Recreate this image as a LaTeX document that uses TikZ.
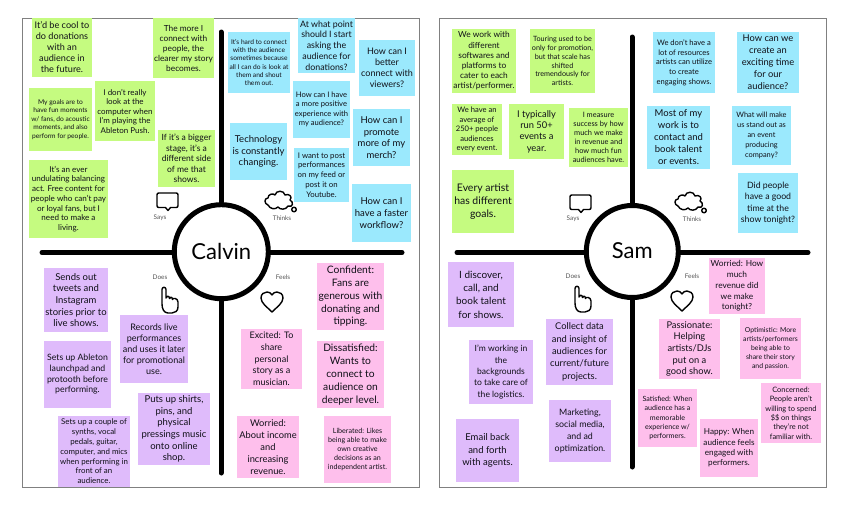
\documentclass[tikz,border=0pt]{standalone}
\usepackage{fontspec}
\setmainfont{Lato}
\definecolor{notegreen}{HTML}{C5FB80}
\definecolor{noteblue}{HTML}{9BE9FD}
\definecolor{notepurple}{HTML}{DFBBFB}
\definecolor{notepink}{HTML}{FEBFEC}
\definecolor{inktext}{HTML}{101018}
\definecolor{framegrey}{HTML}{808080}
\definecolor{labelgrey}{HTML}{555555}
\tikzset{
 notebox/.style={inner sep=0pt,outer sep=0pt,align=center,text=inktext},
 saysnote/.style={notebox,fill=notegreen},
 thinksnote/.style={notebox,fill=noteblue},
 doesnote/.style={notebox,fill=notepurple},
 feelsnote/.style={notebox,fill=notepink},
 panelframe/.style={draw=framegrey,line width=1pt,fill=white},
 axisline/.style={line width=5pt,line cap=round,black},
 hubring/.style={circle,draw=black,line width=5pt,fill=white,inner sep=0pt,font=\fontsize{22}{26}\selectfont},
 quadlabel/.style={inner sep=0pt,text=labelgrey,font=\fontsize{6.4}{8}\selectfont},
 iconline/.style={draw=black,line width=1.4pt,line join=round,fill=white}
}
\newcommand{\stickynote}[9]{\node[#2,minimum width=#5pt-#3pt,minimum height=#6pt-#4pt,font=\fontsize{\fpeval{#7*0.95}}{#8}\selectfont] (#1) at ({(#3+#5)/2},{(#4+#6)/2}) {#9};}
\newcommand{\bubbleicon}[2]{\begin{scope}[shift={(#1,#2)}]
 \draw[iconline] (2,0) -- (19,0) .. controls (20.5,0) and (21,.5) .. (21,2) -- (21,12.5) .. controls (21,14) and (20.5,14.5) .. (19,14.5) -- (13.5,14.5) -- (11,17.5) -- (8.5,14.5) -- (2,14.5) .. controls (.5,14.5) and (0,14) .. (0,12.5) -- (0,2) .. controls (0,.5) and (.5,0) .. (2,0) -- cycle;
\end{scope}}
\newcommand{\cloudicon}[2]{\begin{scope}[shift={(#1,#2)}]
 \draw[iconline] (3,14) .. controls (-1,13) and (-1,7) .. (3,7) .. controls (3,3) and (8,2) .. (10,4) .. controls (11,-1) and (19,-1) .. (20,4) .. controls (24,2) and (28,6) .. (25,9) .. controls (29,11) and (28,17) .. (23,15) .. controls (21,19) and (15,19) .. (13,16) .. controls (10,19) and (5,18) .. (3,14) -- cycle;
 \draw[iconline] (29,18.5) circle (2.3);
\end{scope}}
\newcommand{\handicon}[2]{\begin{scope}[shift={(#1,#2)}]
 \draw[iconline] (1,17) -- (1,2.5) .. controls (1,-.5) and (5,-.5) .. (5,2.5) -- (5,11) .. controls (5,8.5) and (8.5,8.5) .. (8.5,11.5) .. controls (8.5,9.5) and (11.5,9.5) .. (11.5,12.5) .. controls (11.5,10.5) and (17,11) .. (17,15) -- (17,20) .. controls (17,24) and (14,26) .. (11,26) -- (7,26) .. controls (3,26) and (1,22) .. (1,17) -- cycle;
\end{scope}}
\newcommand{\hearticon}[2]{\begin{scope}[shift={(#1,#2)}]
 \draw[iconline] (11,20) .. controls (6,15) and (0,11) .. (0,6) .. controls (0,2) and (3,0) .. (6,0) .. controls (8,0) and (10,1) .. (11,3) .. controls (12,1) and (14,0) .. (16,0) .. controls (19,0) and (22,2) .. (22,6) .. controls (22,11) and (16,15) .. (11,20) -- cycle;
\end{scope}}
\begin{document}
\begin{tikzpicture}[x=1pt,y=-1pt]
\useasboundingbox[fill=white] (0,0) rectangle (849,506);
% panels
\draw[panelframe] (22,18) rectangle (419,487);
\draw[panelframe] (439,18) rectangle (826,487);
% Calvin axes
\node[hubring,minimum size=94pt] (calvin) at (221.3,251.7) {\raisebox{1.5pt}{Calvin}};
\coordinate (cT) at (221,32); \coordinate (cB) at (221,473);
\coordinate (cL) at (42,252.5); \coordinate (cR) at (402,252.5);
\draw[axisline] (cT) -- (calvin.north -| cT);
\draw[axisline] (cB) -- (calvin.south -| cB);
\draw[axisline] (cL) -- (calvin.west |- cL);
\draw[axisline] (cR) -- (calvin.east |- cR);
% Sam axes
\node[hubring,minimum size=92pt] (sam) at (632.3,251.5) {\raisebox{1.2pt}{Sam}};
\coordinate (sT) at (632,37); \coordinate (sB) at (632,467);
\coordinate (sL) at (457,252.5); \coordinate (sR) at (808,252.5);
\draw[axisline] (sT) -- (sam.north -| sT);
\draw[axisline] (sB) -- (sam.south -| sB);
\draw[axisline] (sL) -- (sam.west |- sL);
\draw[axisline] (sR) -- (sam.east |- sR);
% Calvin says
\stickynote{ca1}{saysnote}{32}{18}{92}{77}{9.6}{11}{It'd be cool to\\do donations\\with an\\audience in\\the future.}
\stickynote{ca2}{saysnote}{153}{18}{214}{78}{8.8}{10}{The more I\\connect with\\people, the\\clearer my story\\becomes.}
\stickynote{ca3}{saysnote}{29}{88}{92}{151}{7}{8.5}{My goals are to\\have fun moments\\w/ fans, do acoustic\\moments, and also\\perform for people.}
\stickynote{ca4}{saysnote}{95}{81}{155}{141}{8.4}{9.5}{I don't really\\look at the\\computer when\\I'm playing the\\Ableton Push.}
\stickynote{ca5}{saysnote}{158}{130}{215}{187}{9}{10.4}{If it's a bigger\\stage, it's a\\different side\\of me that\\shows.}
\stickynote{ca6}{saysnote}{29}{160}{108}{238}{8.5}{9.7}{It's an ever\\undulating balancing\\act. Free content for\\people who can't pay\\or loyal fans, but I\\need to make a\\living.}
% Calvin thinks
\stickynote{ct1}{thinksnote}{228}{32}{290}{93}{7}{8.2}{It's hard to connect\\with the audience\\sometimes because\\all I can do is look at\\them and shout\\them out.}
\stickynote{ct2}{thinksnote}{298}{18}{355}{73}{9.3}{10.8}{At what point\\should I start\\asking the\\audience for\\donations?}
\stickynote{ct3}{thinksnote}{359}{40}{415}{96}{9.5}{11}{How can I\\better\\connect with\\viewers?}
\stickynote{ct4}{thinksnote}{293}{81}{350}{138}{8}{9.3}{How can I have\\a more positive\\experience with\\my audience?}
\stickynote{ct5}{thinksnote}{230}{123}{287}{180}{10}{11.7}{Technology\\is constantly\\changing.}
\stickynote{ct6}{thinksnote}{294}{148}{349}{202}{8.2}{9.8}{I want to post\\performances\\on my feed or\\post it on\\Youtube.}
\stickynote{ct7}{thinksnote}{353}{109}{410}{166}{10}{11.7}{How can I\\promote\\more of my\\merch?}
\stickynote{ct8}{thinksnote}{352}{184}{411}{242}{10}{11.7}{How can I\\have a faster\\workflow?}
% Calvin does
\stickynote{cd1}{doesnote}{44}{268}{108}{332}{10}{11.7}{Sends out\\tweets and\\Instagram\\stories prior to\\live shows.}
\stickynote{cd2}{doesnote}{120}{315}{188}{383}{9.5}{11}{Records live\\performances\\and uses it later\\for promotional\\use.}
\stickynote{cd3}{doesnote}{44}{341}{111}{408}{9.2}{10.7}{Sets up Ableton\\launchpad and\\protooth before\\performing.}
\stickynote{cd4}{doesnote}{138}{393}{210}{465}{10}{11.6}{Puts up shirts,\\pins, and\\physical\\pressings music\\onto online\\shop.}
\stickynote{cd5}{doesnote}{58}{416}{130}{487}{8.3}{9.8}{Sets up a couple of\\synths, vocal\\pedals, guitar,\\computer, and mics\\when performing in\\front of an\\audience.}
% Calvin feels
\stickynote{cf1}{feelsnote}{317}{263}{384}{330}{10.8}{12.7}{Confident:\\Fans are\\generous with\\donating and\\tipping.}
\stickynote{cf2}{feelsnote}{241}{329}{302}{389}{9.5}{11.7}{Excited: To\\share\\personal\\story as a\\musician.}
\stickynote{cf3}{feelsnote}{317}{341}{384}{408}{10.8}{12.8}{Dissatisfied:\\Wants to\\connect to\\audience on\\deeper level.}
\stickynote{cf4}{feelsnote}{237}{416}{299}{478}{9.8}{12}{Worried:\\About income\\and\\increasing\\revenue.}
\stickynote{cf5}{feelsnote}{324}{416}{391}{483}{7.5}{9.2}{Liberated: Likes\\being able to make\\own creative\\decisions as an\\independent artist.}
% Sam says
\stickynote{sa1}{saysnote}{452}{29}{516}{93}{8.8}{10.2}{We work with\\different\\softwares and\\platforms to\\cater to each\\artist/performer.}
\stickynote{sa2}{saysnote}{530}{29}{595}{93}{7.6}{8.8}{Touring used to be\\only for promotion,\\but that scale has\\shifted\\tremendously for\\artists.}
\stickynote{sa3}{saysnote}{452}{104}{502}{155}{8}{9.5}{We have an\\average of\\250+ people\\audiences\\every event.}
\stickynote{sa4}{saysnote}{509}{104}{564}{159}{9.8}{11.3}{I typically\\run 50+\\events a\\year.}
\stickynote{sa5}{saysnote}{569}{108}{628}{167}{7.8}{9}{I measure\\success by how\\much we make\\in revenue and\\how much fun\\audiences have.}
\stickynote{sa6}{saysnote}{452}{170}{514}{233}{11}{12.7}{Every artist\\has different\\goals.}
% Sam thinks
\stickynote{st1}{thinksnote}{653}{32}{715}{93}{8}{9.7}{We don't have a\\lot of resources\\artists can utilize\\to create\\engaging shows.}
\stickynote{st2}{thinksnote}{737}{32}{799}{93}{9.8}{12}{How can we\\create an\\exciting time\\for our\\audience?}
\stickynote{st3}{thinksnote}{647}{106}{710}{169}{10}{12}{Most of my\\work is to\\contact and\\book talent\\or events.}
\stickynote{st4}{thinksnote}{732}{106}{791}{165}{7.8}{9.8}{What will make\\us stand out as\\an event\\producing\\company?}
\stickynote{st5}{thinksnote}{738}{173}{798}{233}{9.2}{11.5}{Did people\\have a good\\time at the\\show tonight?}
% Sam does
\stickynote{sd1}{doesnote}{448}{262}{514}{327}{10.5}{13.3}{I discover,\\call, and\\book talent\\for shows.}
\stickynote{sd2}{doesnote}{469}{340}{533}{404}{9}{11.3}{I'm working in\\the\\backgrounds\\to take care of\\the logistics.}
\stickynote{sd3}{doesnote}{546}{319}{613}{385}{9.8}{12.4}{Collect data\\and insight of\\audiences for\\current/future\\projects.}
\stickynote{sd4}{doesnote}{549}{400}{611}{462}{9.3}{12}{Marketing,\\social media,\\and ad\\optimization.}
\stickynote{sd5}{doesnote}{456}{419}{519}{482}{10}{12.7}{Email back\\and forth\\with agents.}
% Sam feels
\stickynote{sf1}{feelsnote}{709}{258}{765}{314}{8.8}{10.7}{Worried: How\\much\\revenue did\\we make\\tonight?}
\stickynote{sf2}{feelsnote}{659}{319}{720}{379}{9.8}{11.7}{Passionate:\\Helping\\artists/DJs\\put on a\\good show.}
\stickynote{sf3}{feelsnote}{740}{318}{801}{379}{7.2}{9}{Optimistic: More\\artists/performers\\being able to\\share their story\\and passion.}
\stickynote{sf4}{feelsnote}{638}{389}{697}{447}{7.5}{9.4}{Satisfied: When\\audience has a\\memorable\\experience w/\\performers.}
\stickynote{sf5}{feelsnote}{700}{419}{758}{477}{8.6}{10.4}{Happy: When\\audience feels\\engaged with\\performers.}
\stickynote{sf6}{feelsnote}{761}{383}{821}{443}{7.8}{9.4}{Concerned:\\People aren't\\willing to spend\\\$\$ on things\\they're not\\familiar with.}
% icons and labels
\bubbleicon{157}{193}
\node[quadlabel] (csays) at (160,218) {Says};
\cloudicon{265}{191}
\node[quadlabel] (cthinks) at (282,218) {Thinks};
\node[quadlabel] (cdoes) at (160,277) {Does};
\handicon{161}{287}
\node[quadlabel] (cfeels) at (283,277) {Feels};
\hearticon{261}{292}
\bubbleicon{570}{195}
\node[quadlabel] (ssays) at (573,219) {Says};
\cloudicon{675}{192}
\node[quadlabel] (sthinks) at (692,219) {Thinks};
\node[quadlabel] (sdoes) at (573,276) {Does};
\handicon{574}{286}
\node[quadlabel] (sfeels) at (692,276) {Feels};
\hearticon{671}{291}
\end{tikzpicture}
\end{document}
